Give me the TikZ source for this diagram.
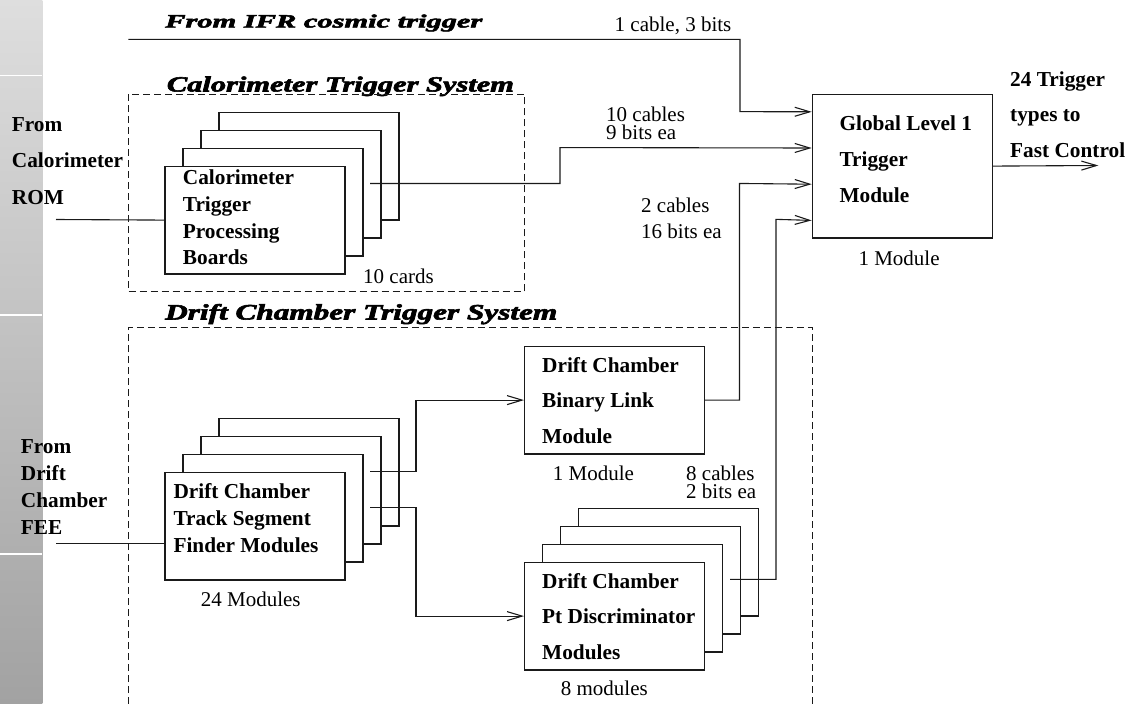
\documentclass[tikz,border=0pt]{standalone}
\usepackage{fontspec}
\usepackage{graphicx}
\setmainfont{Liberation Serif}
\usetikzlibrary{arrows.meta,calc}
\definecolor{stripTop}{HTML}{DEDEDE}
\definecolor{stripBot}{HTML}{A2A2A2}
\definecolor{ink}{HTML}{1A1A1A}
\newcommand{\stk}[2]{\vtop{\baselineskip=#1\lineskiplimit=-\maxdimen\lineskip=0pt\relax\halign{##\hfil\cr#2\crcr}}}
\newcommand{\ttlfont}{\bfseries\itshape\addfontfeatures{FakeBold=2.6}}
\tikzset{
  ln/.style={line width=1.1pt, draw=ink},
  arr/.style={ln, -{Straight Barb[length=15pt,width=9pt]}},
  box/.style={draw=ink, line width=1.2pt, fill=white, minimum width=180pt, minimum height=107.6pt, inner sep=0pt, anchor=north west},
  bigbox/.style={box, minimum height=143.6pt},
  bt/.style={font=\bfseries\fontsize{21.3}{26}\selectfont, anchor=base west, inner sep=0pt},
  nt/.style={font=\fontsize{21}{25}\selectfont, anchor=base west, inner sep=0pt},
  sysbox/.style={draw=ink, line width=1pt, dash pattern=on 7pt off 4pt},
  ttl/.style={anchor=base west, inner sep=0pt},
}
\begin{document}
\begin{tikzpicture}[x=1pt,y=-1pt]
\useasboundingbox (0,0) rectangle (1138,704);
% side strip
\shade[top color=stripTop, bottom color=stripBot] (0,0) rectangle (42.3,704);
\foreach \yy in {75.7,315,554} \draw[white, line width=1.5pt] (0,\yy) -- (42.3,\yy);

% titles
\node[ttl] (ifrt) at (165,27.5) {\resizebox{317pt}{13pt}{\ttlfont From IFR cosmic trigger}};
\node[ttl] (calt) at (166.7,91.5) {\resizebox{347pt}{15pt}{\ttlfont Calorimeter Trigger System}};
\node[ttl] (dct) at (165,319.5) {\resizebox{392pt}{15.5pt}{\ttlfont Drift Chamber Trigger System}};

% system boxes
\draw[sysbox] (128.3,94) rectangle (524.3,291.7);
\draw[sysbox] (128.3,704) -- (128.3,327.5) -- (812,327.5) -- (812,704);

% stacks
\foreach \i in {3,2,1,0} {
  \node[box] (cal\i) at ({164.3+18*\i},{165.7-18*\i}) {};
}
\foreach \i in {3,2,1,0} {
  \node[box] (tsf\i) at ({164.3+18*\i},{471.7-18*\i}) {};
}
\foreach \i in {3,2,1,0} {
  \node[box] (pt\i) at ({524+18*\i},{561.7-18*\i}) {};
}
\node[box] (bl) at (524,345.7) {};
\node[bigbox] (glt) at (811.7,93.7) {};

% global inputs
\coordinate (gin1) at ($(glt.north west)!0.125!(glt.south west)$);
\coordinate (gin2) at ($(glt.north west)!0.375!(glt.south west)$);
\coordinate (gin3) at ($(glt.north west)!0.625!(glt.south west)$);
\coordinate (gin4) at ($(glt.north west)!0.875!(glt.south west)$);

% free ends
\coordinate (ifrsrc) at (128.3,39.3);
\coordinate (calin) at (56,219.5);
\coordinate (feein) at (56,543.3);
\coordinate (calout) at (370,183.45);
\coordinate (tsfo1) at (370,471.7);
\coordinate (tsfo2) at (370,507.3);
\coordinate (pto) at (730,579.3);
\coordinate (fcout) at (1098.3,165.5);

% connectors
\draw[arr] (ifrsrc) -- (740,39.3) -- (740,111.65) -- (gin1);
\draw[ln] (calin) -- (cal0.west);
\draw[arr] (calout) -| (560,147.55) -- (gin2);
\draw[arr] (bl.east) -| (739.5,183.45) -- (gin3);
\draw[arr] (pto) -| (776,219.35) -- (gin4);
\draw[arr] (glt.east) -- (fcout);
\draw[ln] (feein) -- (feein -| tsf0.west);
\draw[arr] (tsfo1) -- (416,471.7) |- (bl.west);
\draw[arr] (tsfo2) -- (416,507.3) |- (pt0.west);

% left labels
\node[bt] (calsrc) at (11.7,131) {\stk{36.7pt}{From\cr Calorimeter\cr ROM}};
\node[bt] (feesrc) at (20.7,453.7) {\stk{26.9pt}{From\cr Drift\cr Chamber\cr FEE}};

% box texts
\node[bt] (caltxt) at (182.7,184.7) {\stk{26.7pt}{Calorimeter\cr Trigger\cr Processing\cr Boards}};
\node[bt] (gltxt) at (839.3,130.3) {\stk{35.85pt}{Global Level 1\cr Trigger\cr Module}};
\node[bt] (bltxt) at (542,372) {\stk{35.85pt}{Drift Chamber\cr Binary Link\cr Module}};
\node[bt] (tsftxt) at (173.3,498.7) {\stk{26.65pt}{Drift Chamber\cr Track Segment\cr Finder Modules}};
\node[bt] (pttxt) at (542,588) {\stk{35.65pt}{Drift Chamber\cr Pt Discriminator\cr Modules}};
\node[bt] (fc) at (1010,86) {\stk{35.85pt}{24 Trigger\cr types to\cr Fast Control}};

% plain labels
\node[nt] (lab1) at (614.5,31) {1 cable, 3 bits};
\node[nt] (lab2) at (606,121) {\stk{18.3pt}{10 cables\cr 9 bits ea}};
\node[nt] (lab3) at (641,212) {\stk{26.7pt}{2 cables\cr 16 bits ea}};
\node[nt] (lab4) at (686,480) {\stk{18.7pt}{8 cables\cr 2 bits ea}};
\node[nt] (glcnt) at (858.3,265.3) {1 Module};
\node[nt] (calcnt) at (363,283.7) {10 cards};
\node[nt] (blcnt) at (552.7,480.3) {1 Module};
\node[nt] (tsfcnt) at (200.7,606.3) {24 Modules};
\node[nt] (ptcnt) at (560.7,695) {8 modules};
\end{tikzpicture}
\end{document}
